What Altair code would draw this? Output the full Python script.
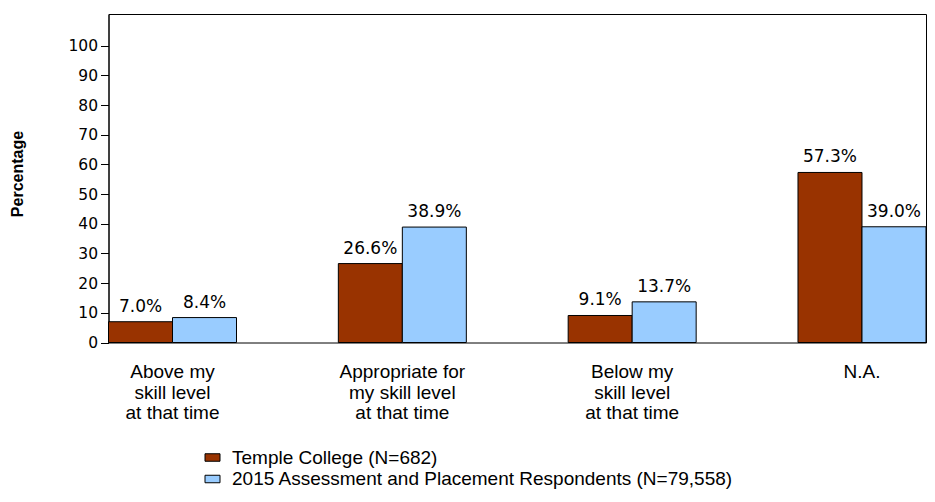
import altair as alt
import pandas as pd

categories = [
    "Above my|skill level|at that time",
    "Appropriate for|my skill level|at that time",
    "Below my|skill level|at that time",
    "N.A.",
]
series = [
    "Temple College (N=682)",
    "2015 Assessment and Placement Respondents (N=79,558)",
]
temple = [7.0, 26.6, 9.1, 57.3]
overall = [8.4, 38.9, 13.7, 39.0]
colors = ["#993300", "#99CCFF"]
y_ticks = [0, 10, 20, 30, 40, 50, 60, 70, 80, 90, 100]

rows = []
for i, c in enumerate(categories):
    rows.append({"cat": c, "series": series[0], "value": temple[i]})
    rows.append({"cat": c, "series": series[1], "value": overall[i]})
df = pd.DataFrame(rows)
df["label"] = df["value"].map(lambda v: f"{v:.1f}%")

x_enc = alt.X(
    "cat:N",
    sort=categories,
    scale=alt.Scale(paddingInner=0.443, paddingOuter=0),
    axis=alt.Axis(
        title=None,
        labelAngle=0,
        domain=False,
        ticks=False,
        labelExpr="split(datum.label, '|')",
        labelFont="Liberation Sans",
        labelFontSize=19,
        labelLineHeight=20.5,
        labelPadding=20,
        labelColor="black",
        labelBaseline="top",
    ),
)
xoff = alt.XOffset("series:N", sort=series, scale=alt.Scale(paddingInner=0, paddingOuter=0))
y_enc = alt.Y(
    "value:Q",
    scale=alt.Scale(domain=[0, 110.7], nice=False, zero=True),
    axis=alt.Axis(
        values=y_ticks,
        title="Percentage",
        titleFont="Liberation Sans",
        titleFontSize=16,
        titleFontWeight="bold",
        titleColor="black",
        titleX=-85.8,
        titleY=159.5,
        titleBaseline="alphabetic",
        grid=False,
        tickSize=8,
        tickColor="black",
        domainColor="black",
        labelPadding=3,
        labelFont="DejaVu Sans",
        labelFontSize=15.5,
        labelColor="black",
        labelOverlap=False,
    ),
)
color_enc = alt.Color(
    "series:N",
    sort=series,
    scale=alt.Scale(domain=series, range=colors),
    legend=alt.Legend(
        title=None,
        orient="none",
        legendX=94.5,
        legendY=434,
        padding=0,
        symbolType="M-1,-0.5H1V0.5H-1Z",
        symbolSize=225,
        symbolStrokeColor="black",
        symbolStrokeWidth=1,
        symbolOpacity=1,
        labelFont="Liberation Sans",
        labelFontSize=19,
        labelColor="black",
        labelOffset=10,
        rowPadding=1.5,
        labelLimit=800,
    ),
)

base = alt.Chart(df).encode(x=x_enc, xOffset=xoff, y=y_enc)
bars = base.mark_bar(stroke="black", strokeWidth=1).encode(color=color_enc)
texts = base.mark_text(
    dy=-10, baseline="alphabetic", font="DejaVu Sans", fontSize=17, color="black"
).encode(text="label:N")

chart = (
    alt.layer(bars, texts)
    .properties(
        width=817.5,
        height=328.5,
        autosize=alt.AutoSizeParams(type="none"),
        padding={"left": 100.5, "top": 6, "right": 1, "bottom": 146},
        background="white",
    )
    .configure_view(stroke="black", strokeWidth=1)
)

chart.save("out.html", embed_options={"renderer": "svg", "actions": False})
